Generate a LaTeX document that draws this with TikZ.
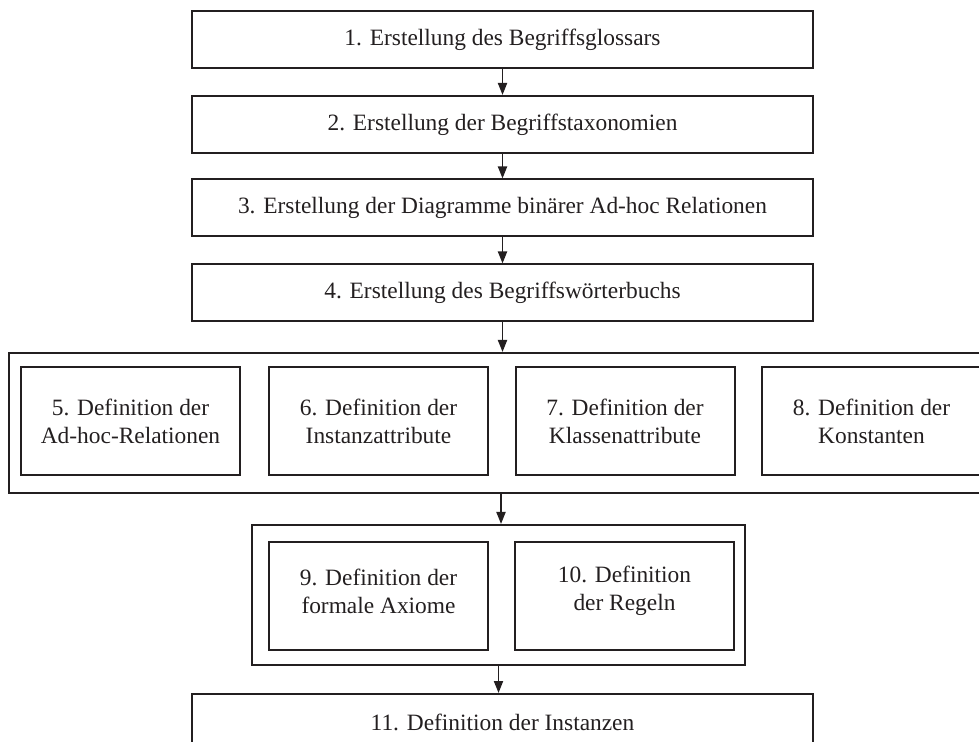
\documentclass[tikz,border=0pt]{standalone}
\usepackage{fontspec}
\setmainfont{Liberation Serif}
\usetikzlibrary{arrows.meta}
\definecolor{ink}{HTML}{231F20}
\begin{document}
\begin{tikzpicture}[x=0.5pt,y=-0.5pt,
  every node/.style={inner sep=0pt, font=\fontsize{11.7}{14}\selectfont, text=ink},
  stepbox/.style={draw=ink, line width=1pt, rectangle, minimum width=310.5pt, minimum height=28.5pt},
  group/.style={draw=ink, line width=1pt, rectangle, minimum height=70pt},
  subbox/.style={draw=ink, line width=1pt, rectangle, minimum width=109.5pt, minimum height=54pt, align=center},
  label/.style={align=center},
  flow/.style={draw=ink, line width=0.9pt, -{Triangle[length=6pt,width=4.5pt]}}]
\useasboundingbox (0,0) rectangle (979,742);
\clip (0,0) rectangle (979,742);

% sequential steps
\node[stepbox] (b1) at (502.5,40) {1. Erstellung des Begriffsglossars};
\node[stepbox] (b2) at (502.5,124.5) {2. Erstellung der Begriffstaxonomien};
\node[stepbox] (b3) at (502.5,208) {3. Erstellung der Diagramme binärer Ad-hoc Relationen};
\node[stepbox] (b4) at (502.5,293) {4. Erstellung des Begriffswörterbuchs};

% first parallel group
\node[group, minimum width=492pt] (g1) at (501,423) {};
\node[subbox] (s5) at (130.5,421) {5. Definition der\\Ad-hoc-Relationen};
\node[subbox] (s6) at (378.5,421) {6. Definition der\\Instanzattribute};
\node[subbox] (s7) at (625,421) {7. Definition der\\Klassenattribute};
\node[subbox] (s8) at (871.5,421) {8. Definition der\\Konstanten};

% second parallel group; its labels sit a little above the box centres
\node[group, minimum width=246.5pt] (g2) at (498.5,595) {};
\node[subbox] (s9) at (378.5,596) {};
\node[subbox] (s10) at (624.5,596) {};
\node[label] (t9) at ([yshift=2.5pt]s9.center) {9. Definition der\\formale Axiome};
\node[label] (t10) at ([yshift=2.5pt]s10.center) {10. Definition\\der Regeln};

% final step
\node[stepbox] (b11) at (502.5,722.5) {11. Definition der Instanzen};

% connectors
\draw[flow] (b1.south) -- (b2.north);
\draw[flow] (b2.south) -- (b3.north);
\draw[flow] (b3.south) -- (b4.north);
\draw[flow] (b4.south) -- (b4.south |- g1.north);
\draw[flow] (g1.south) -- (g1.south |- g2.north);
\draw[flow] (g2.south) -- (g2.south |- b11.north);
\end{tikzpicture}
\end{document}
